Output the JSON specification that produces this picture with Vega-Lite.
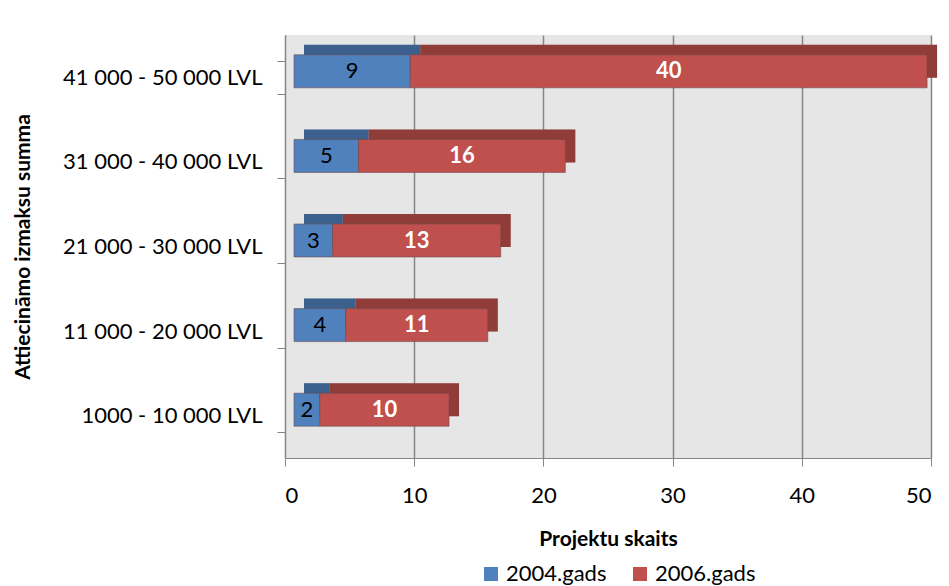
{
  "$schema": "https://vega.github.io/schema/vega-lite/v6.json",
  "width": 646,
  "height": 423,
  "autosize": "none",
  "padding": {"left": 285, "top": 35, "right": 18, "bottom": 128},
  "background": "white",
  "config": {
    "font": "Lato",
    "view": {"fill": "#e6e6e6", "stroke": null}
  },
  "data": {
    "values": [
      {"range": "41 000 - 50 000 LVL", "year": "2004.gads", "value": 9},
      {"range": "41 000 - 50 000 LVL", "year": "2006.gads", "value": 40},
      {"range": "31 000 - 40 000 LVL", "year": "2004.gads", "value": 5},
      {"range": "31 000 - 40 000 LVL", "year": "2006.gads", "value": 16},
      {"range": "21 000 - 30 000 LVL", "year": "2004.gads", "value": 3},
      {"range": "21 000 - 30 000 LVL", "year": "2006.gads", "value": 13},
      {"range": "11 000 - 20 000 LVL", "year": "2004.gads", "value": 4},
      {"range": "11 000 - 20 000 LVL", "year": "2006.gads", "value": 11},
      {"range": "1000 - 10 000 LVL", "year": "2004.gads", "value": 2},
      {"range": "1000 - 10 000 LVL", "year": "2006.gads", "value": 10}
    ]
  },
  "transform": [
    {"stack": "value", "groupby": ["range"], "sort": [{"field": "year", "order": "ascending"}], "as": ["v0", "v1"]},
    {"calculate": "(datum.v0 + datum.v1) / 2", "as": "mid"}
  ],
  "encoding": {
    "y": {
      "field": "range",
      "type": "nominal",
      "sort": ["41 000 - 50 000 LVL", "31 000 - 40 000 LVL", "21 000 - 30 000 LVL", "11 000 - 20 000 LVL", "1000 - 10 000 LVL"],
      "scale": {"paddingInner": 0.61, "paddingOuter": 0.305},
      "axis": {
        "title": "Attiecināmo izmaksu summa",
        "titleFontSize": 21,
        "titleFontWeight": "bold",
        "titleColor": "#000000",
        "titlePadding": 52,
        "labelFontSize": 22,
        "labelColor": "#000000",
        "labelPadding": 15,
        "labelLimit": 0,
        "tickBand": "extent",
        "tickSize": 8,
        "tickColor": "#868686",
        "domainColor": "#868686",
        "grid": false
      }
    },
    "x": {
      "field": "v0",
      "type": "quantitative",
      "title": "Projektu skaits",
      "scale": {"domain": [0, 50], "nice": false},
      "axis": {
        "values": [0, 10, 20, 30, 40, 50],
        "titleFontSize": 21,
        "titleFontWeight": "bold",
        "titleColor": "#000000",
        "titlePadding": 22,
        "labelFontSize": 22,
        "labelColor": "#000000",
        "labelPadding": 19,
        "tickSize": 8,
        "tickColor": "#868686",
        "domainColor": "#868686",
        "grid": true,
        "gridColor": "#868686",
        "gridWidth": 1.5
      }
    }
  },
  "layer": [
    {
      "mark": {"type": "bar", "xOffset": 19, "x2Offset": 19, "yOffset": -16, "y2Offset": -16},
      "encoding": {
        "x2": {"field": "v1"},
        "color": {
          "field": "year",
          "type": "nominal",
          "scale": {"domain": ["2004.gads", "2006.gads"], "range": ["#4f81bd", "#c0504d"]},
          "legend": {
            "title": null,
            "orient": "none",
            "legendX": 195,
            "legendY": 528,
            "direction": "horizontal",
            "symbolType": "square",
            "symbolSize": 196,
            "symbolStrokeWidth": 0,
            "labelFontSize": 22,
            "labelColor": "#000000",
            "labelOffset": 4,
            "columnPadding": 22
          }
        }
      }
    },
    {
      "mark": {"type": "bar", "xOffset": 19, "x2Offset": 19, "yOffset": -16, "y2Offset": -16, "color": "#000000", "opacity": 0.25},
      "encoding": {
        "x2": {"field": "v1"}
      }
    },
    {
      "mark": {"type": "bar", "xOffset": 9, "x2Offset": 9, "yOffset": -6, "y2Offset": -6, "strokeWidth": 1, "stroke": "#6f4a50", "strokeOpacity": 0.6},
      "encoding": {
        "x2": {"field": "v1"},
        "color": {"field": "year", "type": "nominal"}
      }
    },
    {
      "transform": [{"filter": "datum.year === '2004.gads'"}],
      "mark": {"type": "text", "xOffset": 9, "yOffset": -6, "baseline": "middle", "align": "center", "fontSize": 22, "color": "#000000"},
      "encoding": {
        "x": {"field": "mid", "type": "quantitative", "title": "Projektu skaits"},
        "text": {"field": "value", "type": "quantitative"}
      }
    },
    {
      "transform": [{"filter": "datum.year === '2006.gads'"}],
      "mark": {"type": "text", "xOffset": 9, "yOffset": -6, "baseline": "middle", "align": "center", "fontSize": 22, "fontWeight": "bold", "color": "#ffffff"},
      "encoding": {
        "x": {"field": "mid", "type": "quantitative", "title": "Projektu skaits"},
        "text": {"field": "value", "type": "quantitative"}
      }
    }
  ]
}
